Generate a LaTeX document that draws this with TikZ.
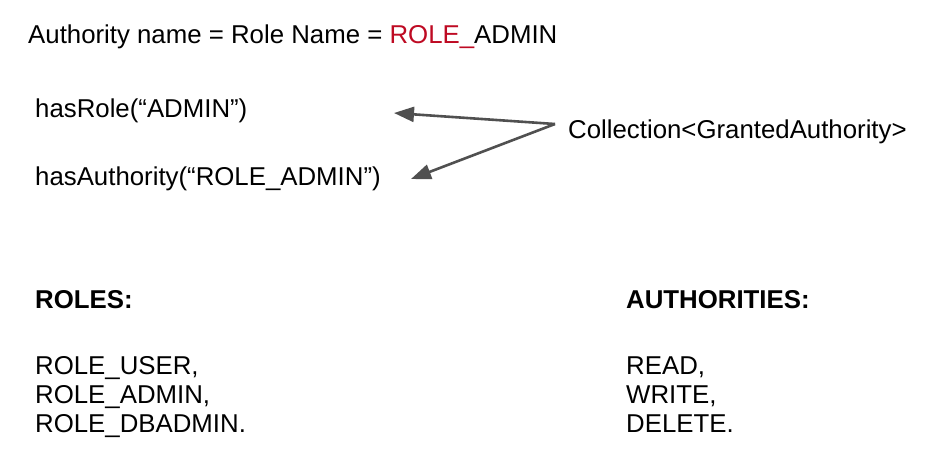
\documentclass[tikz,border=0pt]{standalone}
\usepackage{fontspec}
\setmainfont{Liberation Sans}
\usetikzlibrary{arrows.meta}
\definecolor{rolered}{RGB}{190,10,35}
\definecolor{arrowgray}{RGB}{80,80,80}
\tikzset{
  txt/.style={anchor=base west, inner sep=0pt, font=\fontsize{25.8}{30}\selectfont},
  head/.style={txt, font=\fontsize{25.8}{30}\selectfont\bfseries},
  link/.style={draw=arrowgray, line width=2.6pt, -{Triangle[length=20pt,width=15pt]}}
}
\begin{document}
\begin{tikzpicture}[x=1pt,y=-1pt]
      \useasboundingbox (0,0) rectangle (928,461);
      \node[txt] (title) at (28,43) {Authority name = Role Name = \textcolor{rolered}{ROLE\_}ADMIN};
      \node[txt] (hasrole) at (35,117) {hasRole(“ADMIN”)};
      \node[txt] (hasauth) at (35,185) {hasAuthority(“ROLE\_ADMIN”)};
      \node[txt] (coll) at (568,138) {Collection<GrantedAuthority>};
      \coordinate (src) at (555,124);
      \coordinate (tiprole) at (394,113);
      \coordinate (tipauth) at (411,179);
      \begin{scope}[link]
        \draw (src) -- (tiprole);
        \draw (src) -- (tipauth);
      \end{scope}
      \node[head] (roles) at (35,308) {ROLES:};
      \node[txt] (ruser) at (35,374) {ROLE\_USER,};
      \node[txt] (radmin) at (35,403) {ROLE\_ADMIN,};
      \node[txt] (rdb) at (35,432) {ROLE\_DBADMIN.};
      \node[head] (auths) at (626,308) {AUTHORITIES:};
      \node[txt] (aread) at (626,374) {READ,};
      \node[txt] (awrite) at (626,403) {WRITE,};
      \node[txt] (adel) at (626,432) {DELETE.};
    \end{tikzpicture}
\end{document}
